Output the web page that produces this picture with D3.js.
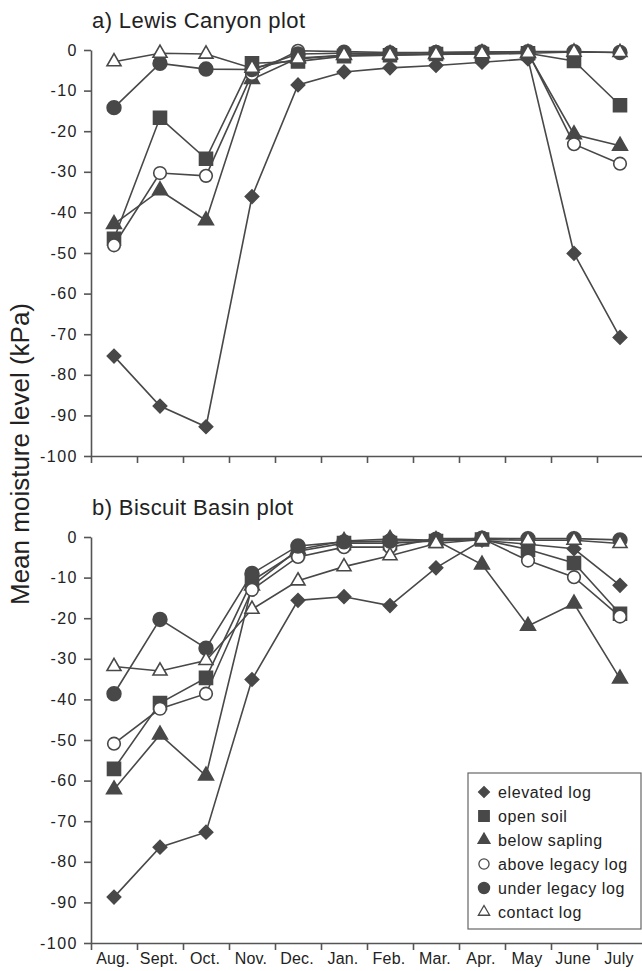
<!DOCTYPE html>
<html>
<head>
<meta charset="utf-8">
<script src="https://cdn.jsdelivr.net/npm/d3@7"></script>
<style>
	body { margin: 0; background: #fff; }
	svg { display: block; font-family: 'Liberation Sans', Arial, sans-serif; }
	.axis path, .axis line { stroke: #555; stroke-width: 1.6; }
	.axis text { fill: #222; font-size: 16px; letter-spacing: 1.5px; font-family: 'Liberation Sans', Arial, sans-serif; }
</style>
</head>
<body>
<svg id="chart" width="642" height="971"></svg>
<script>
const W = 642
const H = 971
const INK = '#484848'

const months = ['Aug.', 'Sept.', 'Oct.', 'Nov.', 'Dec.', 'Jan.', 'Feb.', 'Mar.', 'Apr.', 'May', 'June', 'July']
const yTicks = d3.range(0, -101, -10)

const seriesNames = ['elevated log', 'open soil', 'below sapling', 'above legacy log', 'under legacy log', 'contact log']

// a) Lewis Canyon, one list per series (kPa)
const lewisElevated = [-75.4, -87.7, -92.8, -36.1, -8.6, -5.4, -4.4, -3.8, -3.0, -2.2, -50.1, -70.8]
const lewisOpenSoil = [-46.5, -16.7, -26.8, -3.3, -2.8, -1.5, -1.3, -1.0, -1.0, -0.8, -2.7, -13.6]
const lewisSapling = [-42.9, -34.6, -42.0, -7.2, -2.0, -1.3, -1.0, -1.0, -0.8, -0.8, -20.8, -23.6]
const lewisAbove = [-48.1, -30.3, -31.0, -5.9, -0.2, -0.4, -0.6, -0.6, -0.5, -0.5, -23.2, -28.0]
const lewisUnder = [-14.2, -3.3, -4.7, -4.8, -1.0, -0.8, -0.8, -0.6, -0.5, -0.4, -0.4, -0.6]
const lewisContact = [-2.9, -0.8, -1.0, -4.5, -2.2, -1.3, -1.3, -1.1, -0.9, -0.8, -0.5, -0.6]

// b) Biscuit Basin
const biscuitElevated = [-88.7, -76.4, -72.7, -35.1, -15.6, -14.7, -16.9, -7.6, -0.8, -1.8, -2.9, -11.9]
const biscuitOpenSoil = [-57.1, -40.9, -34.7, -10.8, -3.5, -1.5, -1.5, -1.0, -0.6, -3.1, -6.4, -18.9]
const biscuitSapling = [-62.2, -48.7, -58.8, -12.0, -3.1, -1.0, -0.5, -0.8, -6.8, -21.9, -16.4, -34.9]
const biscuitAbove = [-50.9, -42.3, -38.6, -13.0, -4.9, -2.5, -2.5, -0.4, -0.4, -5.8, -9.9, -19.6]
const biscuitUnder = [-38.6, -20.3, -27.4, -9.0, -2.2, -1.2, -1.0, -0.8, -0.3, -0.4, -0.4, -0.7]
const biscuitContact = [-31.9, -33.0, -30.4, -17.8, -10.8, -7.3, -4.6, -1.6, -0.6, -0.8, -0.8, -1.6]

const panels = [{
	title: 'a) Lewis Canyon plot',
	top: 50,
	series: [lewisElevated, lewisOpenSoil, lewisSapling, lewisAbove, lewisUnder, lewisContact],
	labels: false,
},{
	title: 'b) Biscuit Basin plot',
	top: 537,
	series: [biscuitElevated, biscuitOpenSoil, biscuitSapling, biscuitAbove, biscuitUnder, biscuitContact],
	labels: true,
}]

// marker look per series, same order as seriesNames
const markers = [
	{ type: d3.symbolSquare, size: 90, rotate: 45, fill: INK },
	{ type: d3.symbolSquare, size: 169, rotate: 0, fill: INK },
	{ type: d3.symbolTriangle, size: 95, rotate: 0, fill: INK },
	{ type: d3.symbolCircle, size: 125, rotate: 0, fill: '#fff' },
	{ type: d3.symbolCircle, size: 150, rotate: 0, fill: INK },
	{ type: d3.symbolTriangle, size: 85, rotate: 0, fill: '#fff' },
]

const LEFT = 91
const RIGHT = 643
const PLOT_H = 406

const svg = d3.select('#chart')

const x = d3.scaleBand().domain(months).range([LEFT, RIGHT])
const xEdge = d3.scaleLinear().domain([0, months.length]).range([LEFT, RIGHT])

function drawPanel(p) {
	const y = d3.scaleLinear().domain([0, -100]).range([p.top, p.top + PLOT_H])
	const g = svg.append('g')

	g.append('text')
		.attr('x', LEFT + 1)
		.attr('y', p.top - 22)
		.attr('font-size', 22)
		.attr('letter-spacing', 0.4)
		.attr('fill', '#222')
		.text(p.title)

	g.append('g')
		.attr('class', 'axis')
		.attr('transform', `translate(${LEFT},0)`)
		.call(d3.axisLeft(y).tickValues(yTicks).tickSize(7).tickSizeOuter(0).tickPadding(6).tickFormat(d => String(d)))

	g.append('g')
		.attr('class', 'axis')
		.attr('transform', `translate(0,${p.top + PLOT_H})`)
		.call(d3.axisBottom(xEdge).tickValues(d3.range(0, months.length + 1)).tickSize(7).tickSizeOuter(0).tickFormat(''))

	if (p.labels) {
		g.selectAll('.month')
			.data(months)
			.enter().append('text')
			.attr('class', 'month')
			.attr('x', d => x(d) + x.bandwidth() / 2 - 1)
			.attr('y', p.top + PLOT_H + 21)
			.attr('text-anchor', 'middle')
			.attr('font-size', 16)
			.attr('letter-spacing', 0.2)
			.attr('fill', '#222')
			.text(d => d)
	}

	const line = d3.line()
		.x((d, i) => x(months[i]) + x.bandwidth() / 2)
		.y(d => y(d))

	p.series.forEach((vals, si) => {
		g.append('path')
			.datum(vals)
			.attr('fill', 'none')
			.attr('stroke', INK)
			.attr('stroke-width', 1.6)
			.attr('d', line)
	})

	p.series.forEach((vals, si) => {
		const m = markers[si]
		g.selectAll(`.mk-${si}`)
			.data(vals)
			.enter().append('path')
			.attr('class', `mk-${si}`)
			.attr('transform', (d, i) => `translate(${x(months[i]) + x.bandwidth() / 2},${y(d)}) rotate(${m.rotate})`)
			.attr('d', d3.symbol().type(m.type).size(m.size))
			.attr('fill', m.fill)
			.attr('stroke', INK)
			.attr('stroke-width', 1.6)
	})
}

function drawLegend() {
	const lg = svg.append('g').attr('transform', 'translate(468,773)')
	lg.append('rect')
		.attr('width', 173)
		.attr('height', 156)
		.attr('fill', '#fff')
		.attr('stroke', '#666')
		.attr('stroke-width', 1.2)

	const row = lg.selectAll('.row')
		.data(seriesNames)
		.enter().append('g')
		.attr('transform', (d, i) => `translate(16,${19 + i * 24})`)

	row.append('path')
		.attr('transform', (d, i) => `rotate(${markers[i].rotate})`)
		.attr('d', (d, i) => d3.symbol().type(markers[i].type).size(markers[i].size * 0.65)())
		.attr('fill', (d, i) => markers[i].fill)
		.attr('stroke', INK)
		.attr('stroke-width', 1.3)

	row.append('text')
		.attr('x', 14)
		.attr('y', 6)
		.attr('font-size', 16)
		.attr('letter-spacing', 0.6)
		.attr('fill', '#222')
		.text(d => d)
}

panels.forEach(drawPanel)
drawLegend()

svg.append('text')
	.attr('transform', 'translate(29,454) rotate(-90)')
	.attr('text-anchor', 'middle')
	.attr('font-size', 26)
	.attr('fill', '#222')
	.text('Mean moisture level (kPa)')
</script>
</body>
</html>
